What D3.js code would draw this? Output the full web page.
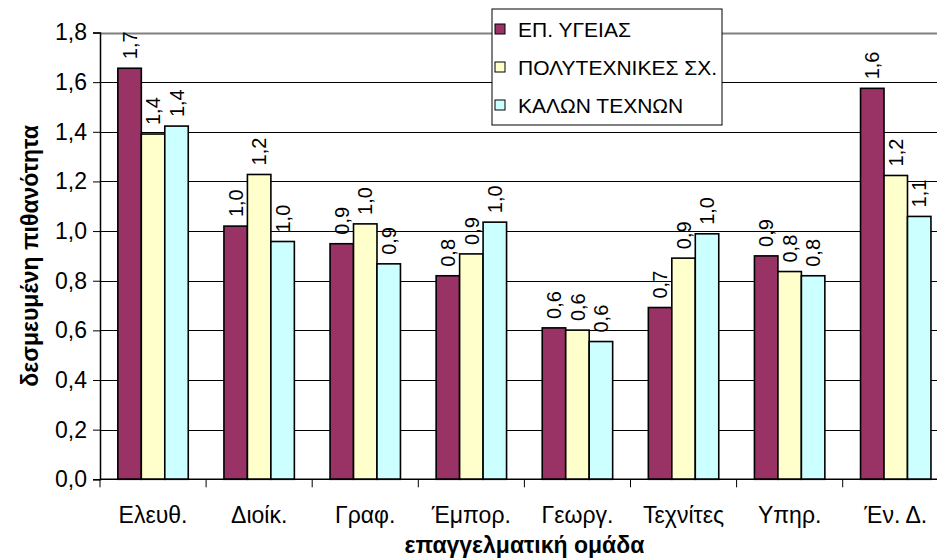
<!DOCTYPE html>
<html>
<head>
<meta charset="utf-8">
<script src="https://cdn.jsdelivr.net/npm/d3@7"></script>
<style>
  body { margin: 0; background: #fff; }
  svg text { font-family: "Liberation Sans", Arial, sans-serif; }
</style>
</head>
<body>
<svg id="chart" width="937" height="558"></svg>
<script>
const categories = ["Ελευθ.", "Διοίκ.", "Γραφ.", "Έμπορ.", "Γεωργ.", "Τεχνίτες", "Υπηρ.", "Έν. Δ."];
const seriesNames = ["ΕΠ. ΥΓΕΙΑΣ", "ΠΟΛΥΤΕΧΝΙΚΕΣ ΣΧ.", "ΚΑΛΩΝ ΤΕΧΝΩΝ"];
const health = [1.656, 1.020, 0.949, 0.820, 0.610, 0.692, 0.900, 1.575];
const poly = [1.391, 1.228, 1.029, 0.908, 0.601, 0.891, 0.837, 1.224];
const arts = [1.423, 0.958, 0.868, 1.036, 0.555, 0.989, 0.820, 1.059];
const yTicks = [0, 0.2, 0.4, 0.6, 0.8, 1.0, 1.2, 1.4, 1.6, 1.8];
const colors = ["#993366", "#FFFFCC", "#CCFFFF"];

const seriesValues = [health, poly, arts];
const svg = d3.select("#chart");

// plot area runs a bit past the right edge, as in the original
const plotLeft = 100, plotRight = 948.8, plotTop = 32.5, plotBottom = 479.3;

const x0 = d3.scaleBand().domain(categories).range([plotLeft, plotRight]);
const x1 = d3.scaleBand().domain(seriesNames).range([0, x0.bandwidth()]).paddingOuter(0.76);
const y = d3.scaleLinear().domain([0, 1.8]).range([plotBottom, plotTop]);

const fmt = v => d3.format(".1f")(v).replace(".", ",");

// gridlines
svg.append("g").selectAll("line")
  .data(yTicks.filter(t => t > 0))
  .enter().append("line")
  .attr("x1", plotLeft).attr("x2", plotRight)
  .attr("y1", d => Math.round(y(d)) + 0.5).attr("y2", d => Math.round(y(d)) + 0.5)
  .attr("stroke", d => d === 1.8 ? "#808080" : "#000")
  .attr("stroke-width", d => d === 1.8 ? 2 : 1);

// bars
const groups = svg.append("g").selectAll("g")
  .data(categories)
  .enter().append("g")
  .attr("transform", d => "translate(" + x0(d) + ",0)");

groups.selectAll("rect")
  .data((c, i) => seriesNames.map((s, j) => ({ s: s, j: j, v: seriesValues[j][i] })))
  .enter().append("rect")
  .attr("x", d => x1(d.s))
  .attr("y", d => y(d.v))
  .attr("width", x1.bandwidth())
  .attr("height", d => y(0) - y(d.v))
  .attr("fill", d => colors[d.j])
  .attr("stroke", "#000")
  .attr("stroke-width", 1.6);

// value labels, rotated
groups.selectAll("text.val")
  .data((c, i) => seriesNames.map((s, j) => ({ s: s, j: j, v: seriesValues[j][i] })))
  .enter().append("text")
  .classed("val", true)
  .attr("transform", d => "translate(" + (x1(d.s) + x1.bandwidth() / 2) + "," + (y(d.v) - 9) + ") rotate(-90)")
  .attr("dy", "0.36em")
  .attr("font-size", 20)
  .text(d => fmt(d.v));

// axes
const yAxis = d3.axisLeft(y).tickValues(yTicks).tickFormat(fmt).tickSize(7).tickPadding(6);
const gy = svg.append("g").attr("transform", "translate(" + plotLeft + ",0)").call(yAxis);
gy.select(".domain").attr("stroke", "#000").attr("stroke-width", 1.5);
gy.selectAll(".tick line").attr("stroke", "#000");
gy.selectAll("text").attr("font-size", 23).attr("font-family", "Liberation Sans, Arial, sans-serif");

svg.append("line")
  .attr("x1", plotLeft).attr("x2", plotRight)
  .attr("y1", plotBottom).attr("y2", plotBottom)
  .attr("stroke", "#000").attr("stroke-width", 1.5);

// category boundary ticks
svg.append("g").selectAll("line")
  .data(categories)
  .enter().append("line")
  .attr("x1", d => x0(d)).attr("x2", d => x0(d))
  .attr("y1", plotBottom).attr("y2", plotBottom + 8)
  .attr("stroke", "#000");

svg.append("g").selectAll("text")
  .data(categories)
  .enter().append("text")
  .attr("x", d => x0(d) + x0.bandwidth() / 2)
  .attr("y", 523)
  .attr("text-anchor", "middle")
  .attr("font-size", 23)
  .text(d => d);

// axis titles
svg.append("text")
  .attr("x", (plotLeft + plotRight) / 2)
  .attr("y", 553)
  .attr("text-anchor", "middle")
  .attr("font-size", 23)
  .attr("font-weight", "bold")
  .text("επαγγελματική ομάδα");

svg.append("text")
  .attr("transform", "translate(38," + ((plotTop + plotBottom) / 2) + ") rotate(-90)")
  .attr("text-anchor", "middle")
  .attr("font-size", 23)
  .attr("font-weight", "bold")
  .text("δεσμευμένη πιθανότητα");

// legend
const legend = svg.append("g").attr("transform", "translate(492,9)");
legend.append("rect")
  .attr("width", 230).attr("height", 116)
  .attr("fill", "#fff").attr("stroke", "#000");

const items = legend.selectAll("g")
  .data(seriesNames)
  .enter().append("g")
  .attr("transform", (d, i) => "translate(0," + (20 + i * 38) + ")");

items.append("rect")
  .attr("x", 3).attr("y", -5)
  .attr("width", 10).attr("height", 10)
  .attr("fill", (d, i) => colors[i])
  .attr("stroke", "#000");

items.append("text")
  .attr("x", 26).attr("dy", "0.36em")
  .attr("font-size", 21)
  .text(d => d);
</script>
</body>
</html>
